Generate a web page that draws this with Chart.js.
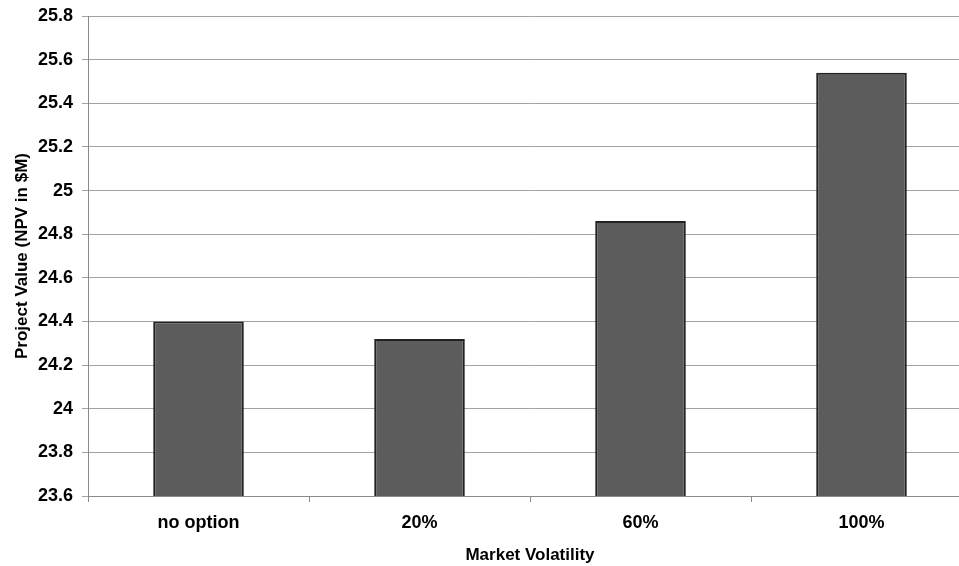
<!DOCTYPE html>
<html>
<head>
<meta charset="utf-8">
<script src="https://cdn.jsdelivr.net/npm/chart.js@4/dist/chart.umd.min.js"></script>
<style>
  html, body { margin: 0; padding: 0; background: #ffffff; overflow: hidden; }
  #wrap { width: 972px; height: 566px; }
</style>
</head>
<body>
<div id="wrap"><canvas id="chart" width="972" height="566"></canvas></div>
<script>
// Project value under different market volatility assumptions
const categories = ['no option', '20%', '60%', '100%'];
const projectValues = [24.40, 24.32, 24.86, 25.54];
const yTickValues = [23.6, 23.8, 24.0, 24.2, 24.4, 24.6, 24.8, 25.0, 25.2, 25.4, 25.6, 25.8];
const xAxisTitle = 'Market Volatility';
const yAxisTitle = 'Project Value (NPV in $M)';

const tickFont = { family: '"Liberation Sans", Arial, sans-serif', size: 18, weight: 'bold' };
const titleFont = { family: '"Liberation Sans", Arial, sans-serif', size: 17, weight: 'bold' };

new Chart(document.getElementById('chart'), {
  type: 'bar',
  data: {
    labels: categories,
    datasets: [{
      data: projectValues,
      backgroundColor: '#5c5c5c',
      borderColor: '#222222',
      borderWidth: 2,
      borderSkipped: false,
      barPercentage: 0.41,
      categoryPercentage: 1.0
    }]
  },
  options: {
    responsive: false,
    animation: false,
    layout: { padding: { top: 16, right: 0, bottom: 0, left: 0 } },
    plugins: {
      legend: { display: false },
      tooltip: { enabled: false }
    },
    scales: {
      x: {
        grid: {
          display: true,
          drawOnChartArea: false,
          offset: true,
          tickLength: 6,
          color: '#8a8a8a'
        },
        border: { display: true, color: '#8a8a8a' },
        ticks: { color: '#000000', font: tickFont, padding: 10, maxRotation: 0 },
        title: {
          display: true,
          text: xAxisTitle,
          color: '#000000',
          font: titleFont,
          padding: { top: 0, bottom: 0 }
        },
        afterFit: (scale) => { scale.height = 70; }
      },
      y: {
        min: yTickValues[0],
        max: yTickValues[yTickValues.length - 1],
        afterBuildTicks: (scale) => {
          scale.ticks = yTickValues.map(v => ({ value: v }));
        },
        grid: {
          color: '#a3a3a3',
          lineWidth: 1,
          tickLength: 6
        },
        border: { display: true, color: '#8a8a8a' },
        ticks: {
          color: '#000000',
          font: tickFont,
          padding: 9,
          callback: (value) => String(Number(Number(value).toFixed(1)))
        },
        title: {
          display: true,
          text: yAxisTitle,
          color: '#000000',
          font: titleFont,
          padding: { top: 12, bottom: 0 }
        },
        afterFit: (scale) => {
          scale.width = 88;
          scale.paddingTop = 0;
          scale.paddingBottom = 0;
        }
      }
    }
  }
});
</script>
</body>
</html>
